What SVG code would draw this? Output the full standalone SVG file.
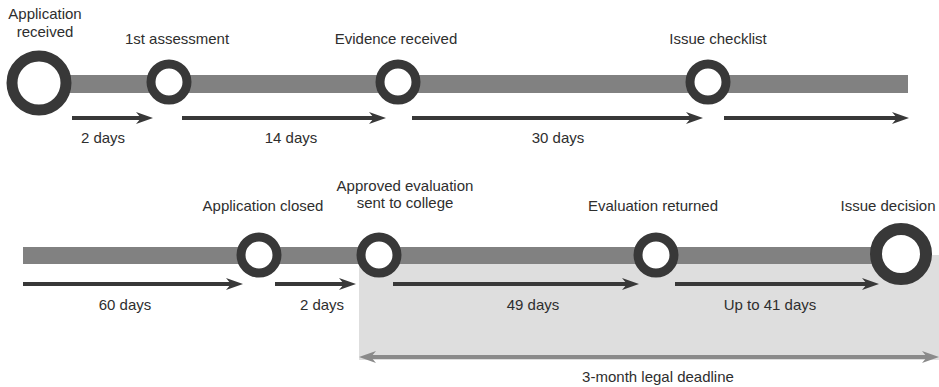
<svg xmlns="http://www.w3.org/2000/svg" width="939" height="387" viewBox="0 0 939 387">
<style>
text{font-family:"Liberation Sans",Arial,sans-serif;font-size:15px;fill:#2e2e2e;text-anchor:middle}
.bar{fill:#818181}
.ring{fill:#fff;stroke:#383838}
.arr{stroke:#383838;stroke-width:4;fill:none}
.dl{stroke:#8a8a8a;stroke-width:4;fill:none}
</style>
<defs>
<marker id="ah" viewBox="0 0 17 12" refX="6" refY="6" markerWidth="17" markerHeight="12" markerUnits="userSpaceOnUse" orient="auto">
<path d="M0,0 L17,6 L0,12 L5,6 z" fill="#383838"/>
</marker>
<marker id="ag" viewBox="0 0 17 12" refX="6" refY="6" markerWidth="17" markerHeight="12" markerUnits="userSpaceOnUse" orient="auto-start-reverse">
<path d="M0,0 L17,6 L0,12 L5,6 z" fill="#8a8a8a"/>
</marker>
</defs>
<rect x="0" y="0" width="939" height="387" fill="#fff"/>
<rect x="359" y="255" width="580" height="105" fill="#dedede"/>
<rect class="bar" x="38" y="75" width="870" height="18"/>
<rect class="bar" x="23" y="247" width="878" height="17"/>
<g id="connectors">
<line class="arr" x1="72" y1="118" x2="142" y2="118" marker-end="url(#ah)"/>
<line class="arr" x1="182" y1="118" x2="375" y2="118" marker-end="url(#ah)"/>
<line class="arr" x1="412" y1="118" x2="692" y2="118" marker-end="url(#ah)"/>
<line class="arr" x1="724" y1="118" x2="898" y2="118" marker-end="url(#ah)"/>
<line class="arr" x1="23" y1="284" x2="232" y2="284" marker-end="url(#ah)"/>
<line class="arr" x1="275" y1="284" x2="345" y2="284" marker-end="url(#ah)"/>
<line class="arr" x1="393" y1="284" x2="628" y2="284" marker-end="url(#ah)"/>
<line class="arr" x1="675" y1="284" x2="868" y2="284" marker-end="url(#ah)"/>
<line class="dl" x1="370" y1="357" x2="928" y2="357" marker-start="url(#ag)" marker-end="url(#ag)"/>
</g>
<g id="n1"><circle class="ring" cx="39" cy="83" r="27" stroke-width="11"/><text x="45" y="19">Application</text><text x="45" y="37">received</text></g>
<g id="n2"><circle class="ring" cx="169" cy="82" r="18" stroke-width="9"/><text x="177" y="44">1st assessment</text></g>
<g id="n3"><circle class="ring" cx="398" cy="82" r="18" stroke-width="9"/><text x="396" y="44">Evidence received</text></g>
<g id="n4"><circle class="ring" cx="708" cy="82" r="18" stroke-width="9"/><text x="718" y="44">Issue checklist</text></g>
<g id="n5"><circle class="ring" cx="259" cy="255" r="18" stroke-width="9"/><text x="263" y="211">Application closed</text></g>
<g id="n6"><circle class="ring" cx="379" cy="255" r="18" stroke-width="9"/><text x="405" y="191">Approved evaluation</text><text x="405" y="208">sent to college</text></g>
<g id="n7"><circle class="ring" cx="656" cy="255" r="18" stroke-width="9"/><text x="653" y="211">Evaluation returned</text></g>
<g id="n8"><circle class="ring" cx="901" cy="254" r="25" stroke-width="12"/><text x="888" y="211">Issue decision</text></g>
<g id="labels">
<text x="103" y="143">2 days</text>
<text x="291" y="143">14 days</text>
<text x="558" y="143">30 days</text>
<text x="125" y="310">60 days</text>
<text x="322" y="310">2 days</text>
<text x="533" y="310">49 days</text>
<text x="770" y="310">Up to 41 days</text>
<text x="658" y="382">3-month legal deadline</text>
</g>
</svg>
